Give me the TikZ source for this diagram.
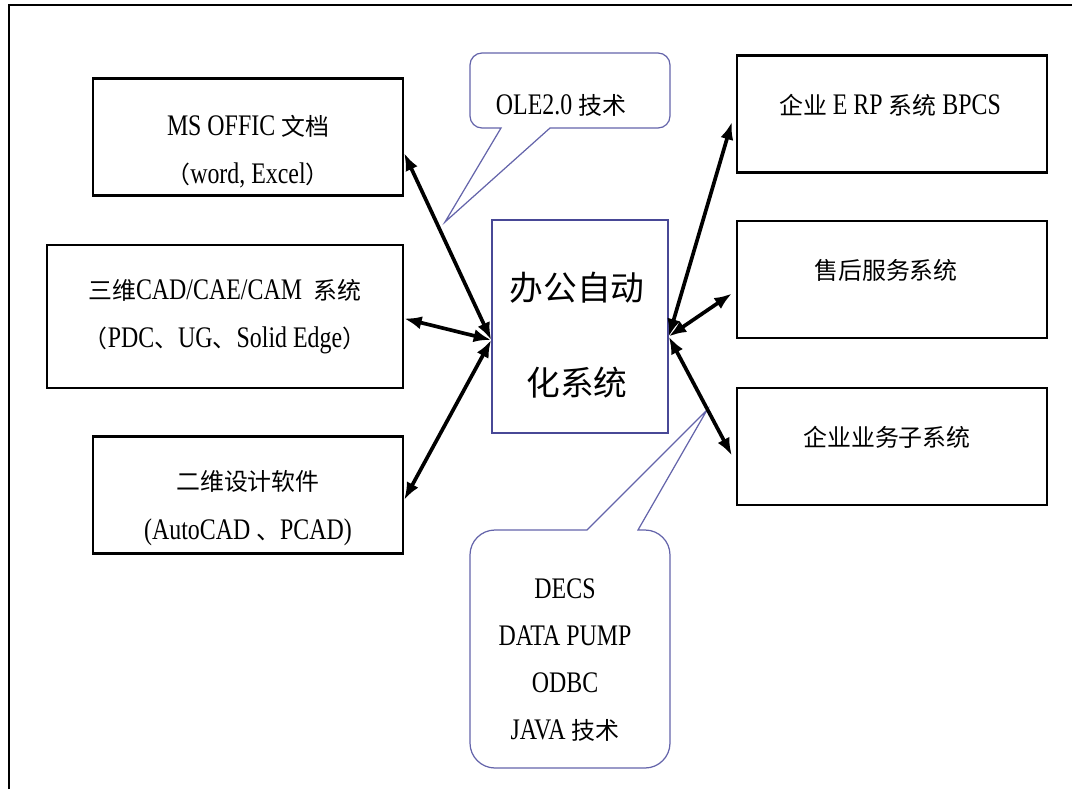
\documentclass[tikz,border=0pt]{standalone}
\usepackage{fontspec}
\setmainfont{Liberation Serif}[FakeStretch=0.8]
\newfontfamily\cjk{Noto Sans CJK SC}[Scale=0.8]
\newcommand\zh[1]{{\cjk#1}}
\usetikzlibrary{arrows.meta}
\definecolor{hubblue}{RGB}{72,72,150}
\definecolor{noteblue}{RGB}{100,100,170}
\begin{document}
\begin{tikzpicture}[x=0.02cm,y=-0.02cm]
  \tikzstyle{box}=[draw,line width=1.3pt,minimum width=6.2cm,minimum height=2.34cm]
  \tikzstyle{boxtext}=[font=\fontsize{17}{27.5}\selectfont,align=center,inner sep=0pt]
  \tikzstyle{linkarrow}=[draw,line width=2.1pt,{Latex[length=10pt,width=7.5pt]}-{Latex[length=10pt,width=7.5pt]}]
  \tikzstyle{note}=[draw,noteblue,line width=0.7pt]
  \useasboundingbox (0,0) rectangle (1072,789);
  \path[draw,line width=1.3pt] (9,789) -- (9,5) -- (1072,5);
  % boxes
  \node[box] (office) at (248,137) {};
  \node[box,minimum width=7.12cm,minimum height=2.86cm] (cad3) at (225,316.5) {};
  \node[box] (cad2) at (248,495) {};
  \node[box] (erp) at (892,114) {};
  \node[box] (service) at (892,279.5) {};
  \node[box] (subsys) at (892,446.5) {};
  \node[draw,hubblue,line width=0.9pt,minimum width=3.52cm,minimum height=4.26cm] (hub) at (580,326.5) {};
  % texts
  \node[boxtext] (officetext) at (248,152) {MS OFFIC \zh{文档}\\\zh{（}word, Excel\zh{）}};
  \node[boxtext] (cad3text) at (225,316.5) {\zh{三维}CAD/CAE/CAM\ \ \zh{系统}\\\zh{（}PDC\zh{、}UG\zh{、}Solid Edge\zh{）}};
  \node[boxtext] (cad2text) at (248,508) {\zh{二维设计软件}\\(AutoCAD \zh{、}PCAD)};
  \node[boxtext] (erptext) at (890,105) {\zh{企业} E RP \zh{系统} BPCS};
  \node[boxtext] (servicetext) at (886,270) {\zh{售后服务系统}};
  \node[boxtext] (subsystext) at (887,437) {\zh{企业业务子系统}};
  \node[font=\cjk\fontsize{24}{54}\selectfont,align=center] (hubtext) at (577,335) {办公自动\\化系统};
  % callouts
  \path[note] (445,222) -- (501,128) [rounded corners=0.24cm] -- (470,128) -- (470,53) -- (670,53) -- (670,128) [sharp corners] -- (550,128) -- cycle;
  \node[boxtext] (ole) at (561,105) {OLE2.0 \zh{技术}};
  \path[note] (707,410) -- (587,530) [rounded corners=0.5cm] -- (470,530) -- (470,768) -- (670,768) -- (670,530) [sharp corners] -- (638,530) -- cycle;
  \node[boxtext,font=\fontsize{17}{26.6}\selectfont] (tools) at (565,660) {DECS\\DATA PUMP\\ODBC\\JAVA \zh{技术}};
  % links
  \coordinate (hubL) at ([yshift=-0.27cm]hub.west);
  \coordinate (hubR) at ([yshift=-0.2cm]hub.east);
  \path[linkarrow] ([yshift=-0.32cm]office.east) -- (hubL);
  \path[linkarrow] ([yshift=-0.04cm]cad3.east) -- (hubL);
  \path[linkarrow] ([yshift=-0.1cm]cad2.east) -- (hubL);
  \path[linkarrow] (hubR) -- ([xshift=-0.08cm,yshift=-0.16cm]erp.west);
  \path[linkarrow] (hubR) -- ([xshift=-0.08cm,yshift=-0.28cm]service.west);
  \path[linkarrow] (hubR) -- ([xshift=-0.08cm,yshift=-0.18cm]subsys.west);
\end{tikzpicture}
\end{document}
